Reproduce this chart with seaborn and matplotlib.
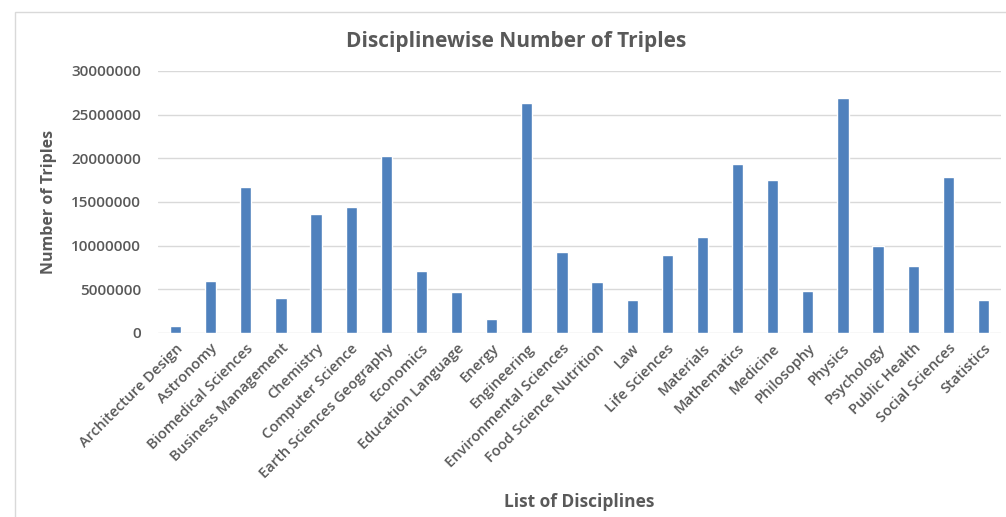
import matplotlib
matplotlib.use('Agg')
import matplotlib.pyplot as plt
import seaborn as sns
import pandas as pd
from matplotlib.patches import Rectangle
from matplotlib.ticker import FuncFormatter

# ---- Data ----
disciplines = ['Architecture Design', 'Astronomy', 'Biomedical Sciences', 'Business Management',
               'Chemistry', 'Computer Science', 'Earth Sciences Geography', 'Economics',
               'Education Language', 'Energy', 'Engineering', 'Environmental Sciences',
               'Food Science Nutrition', 'Law', 'Life Sciences', 'Materials', 'Mathematics',
               'Medicine', 'Philosophy', 'Physics', 'Psychology', 'Public Health',
               'Social Sciences', 'Statistics']
triples = [850000, 5950000, 16750000, 4050000, 13600000, 14450000, 20200000, 7050000,
           4700000, 1550000, 26350000, 9250000, 5800000, 3750000, 8950000, 11000000,
           19350000, 17450000, 4850000, 26900000, 9950000, 7700000, 17850000, 3750000]
y_ticks = [0, 5000000, 10000000, 15000000, 20000000, 25000000, 30000000]

df = pd.DataFrame({'Discipline': disciplines, 'Triples': triples})

# ---- Plot ----
sns.set_style('white')
plt.rcParams['font.family'] = ['Open Sans', 'DejaVu Sans']
text_grey = '#595959'

fig = plt.figure(figsize=(10.06, 5.17), dpi=100)
ax = fig.add_axes([0.157, 0.356, 0.838, 0.507])
sns.barplot(data=df, x='Discipline', y='Triples', color='#4f81bd', width=0.32,
            saturation=1, ax=ax)

ax.set_ylim(0, 30000000)
ax.set_yticks(y_ticks)
ax.yaxis.set_major_formatter(FuncFormatter(lambda v, p: f'{int(v)}'))
ax.grid(axis='y', color='#d9d9d9', linewidth=1)
ax.set_axisbelow(True)
for s in ax.spines.values():
    s.set_visible(False)
ax.tick_params(axis='both', length=0)
ax.tick_params(axis='y', labelsize=11, labelcolor=text_grey, pad=12)
plt.setp(ax.get_yticklabels(), fontweight='semibold')
plt.setp(ax.get_xticklabels(), rotation=45, ha='right', rotation_mode='anchor',
         fontsize=10.5, color=text_grey, fontweight='semibold')
ax.tick_params(axis='x', pad=6)

ax.set_xlabel('List of Disciplines', fontsize=12.5, fontweight='bold', color=text_grey)
ax.xaxis.set_label_coords(0.5, -0.61)
ax.set_ylabel('Number of Triples', fontsize=11.5, fontweight='bold', color=text_grey)
ax.yaxis.set_label_coords(-0.12, 0.5)
ax.set_title('Disciplinewise Number of Triples', fontsize=15, fontweight='bold',
             color=text_grey, pad=17, x=0.425)

# chart border
fig.patches.append(Rectangle((15 / 1006, -0.01), 1.0, 1 - 12 / 517 + 0.01,
                             transform=fig.transFigure, fill=False,
                             edgecolor='#d9d9d9', linewidth=1))

fig.savefig('out.png', dpi=100)
